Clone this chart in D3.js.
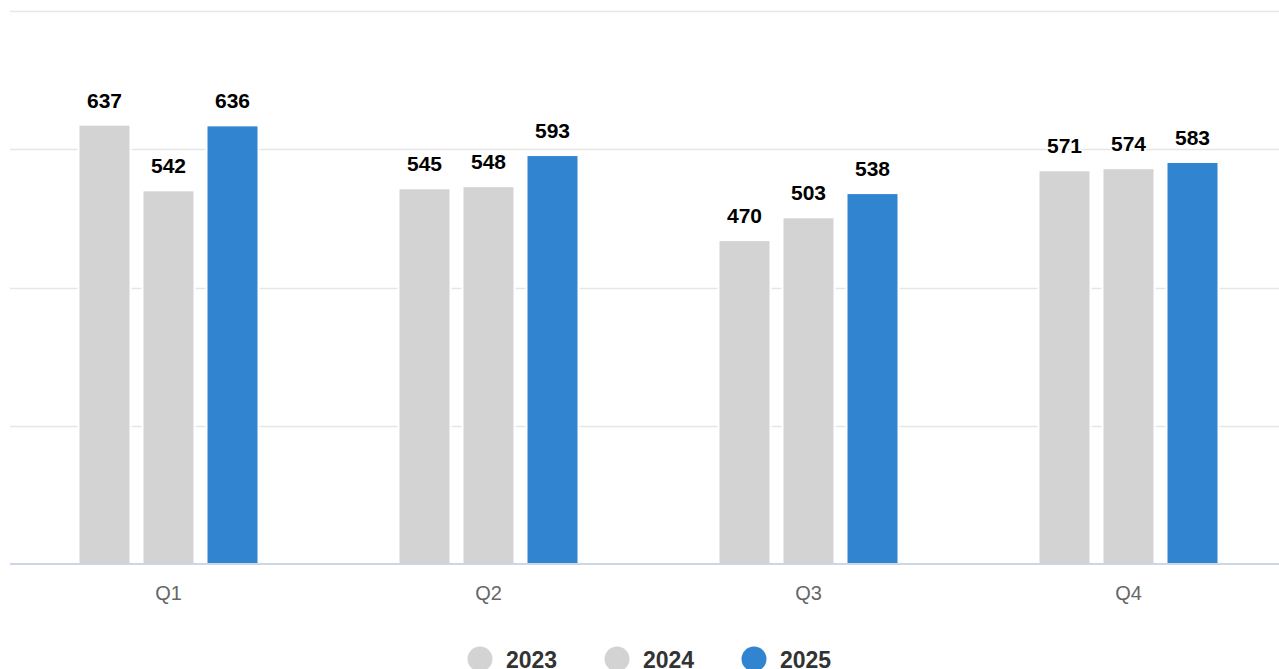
<!DOCTYPE html>
<html lang="en">
<head>
    <meta charset="UTF-8">
    <title>Quarterly comparison</title>
    <script src="https://cdn.jsdelivr.net/npm/d3@7"></script>
    <style>
        body { margin: 0; background: #fff; }
        svg { display: block; font-family: "Liberation Sans", Arial, sans-serif; }
    </style>
</head>
<body>
    <svg width="1279" height="669"></svg>
    <script>
        const quarters = ['Q1', 'Q2', 'Q3', 'Q4']
        const seriesNames = ['2023', '2024', '2025']
        const values2023 = [637, 545, 470, 571]
        const values2024 = [542, 548, 503, 574]
        const values2025 = [636, 593, 538, 583]
        const yTicks = [0, 200, 400, 600, 800]
        const colors = ['#d3d3d3', '#d3d3d3', '#3184d0']

        const seriesValues = [values2023, values2024, values2025]
        const rows = quarters.map((q, i) => ({
            quarter: q,
            bars: seriesNames.map((s, j) => ({ series: s, value: seriesValues[j][i], color: colors[j] }))
        }))

        const svg = d3.select('svg')
        const plotLeft = 8.5, plotRight = 1288.5

        const x0 = d3.scaleBand().domain(quarters).range([plotLeft, plotRight])
        const x1 = d3.scaleBand().domain(seriesNames).range([64, 256])
        const y = d3.scaleLinear().domain([0, 800]).range([565, 12])

        // grid lines
        svg.append('g')
            .selectAll('line')
            .data(yTicks.slice(1))
            .join('line')
            .attr('x1', 10)
            .attr('x2', 1279)
            .attr('y1', d => Math.round(y(d)) - 0.5)
            .attr('y2', d => Math.round(y(d)) - 0.5)
            .attr('stroke', '#e6e6e6')
            .attr('stroke-width', 1.6)

        const groups = svg.append('g')
            .selectAll('g')
            .data(rows)
            .join('g')
            .attr('transform', d => 'translate(' + x0(d.quarter) + ',0)')

        groups.selectAll('rect')
            .data(d => d.bars)
            .join('rect')
            .attr('x', d => x1(d.series) + 6)
            .attr('width', x1.bandwidth() - 12)
            .attr('y', d => y(d.value))
            .attr('height', d => y(0) - y(d.value))
            .attr('fill', d => d.color)
            .attr('stroke', 'white')
            .attr('stroke-width', 2)

        groups.selectAll('text')
            .data(d => d.bars)
            .join('text')
            .attr('x', d => x1(d.series) + x1.bandwidth() / 2)
            .attr('y', d => y(d.value) - 17)
            .attr('text-anchor', 'middle')
            .attr('font-size', 21)
            .attr('font-weight', 'bold')
            .attr('fill', '#000')
            .attr('stroke', 'white')
            .attr('stroke-width', 3)
            .attr('paint-order', 'stroke')
            .attr('stroke-linejoin', 'round')
            .text(d => d.value)

        // x axis
        svg.append('line')
            .attr('x1', 10)
            .attr('x2', 1279)
            .attr('y1', Math.round(y(0)) - 1)
            .attr('y2', Math.round(y(0)) - 1)
            .attr('stroke', '#ccd6eb')
            .attr('stroke-width', 2)

        svg.append('g')
            .selectAll('text')
            .data(quarters)
            .join('text')
            .attr('x', d => x0(d) + x0.bandwidth() / 2)
            .attr('y', 600)
            .attr('text-anchor', 'middle')
            .attr('font-size', 20)
            .attr('fill', '#666')
            .text(d => d)

        // legend
        const legend = svg.append('g')
            .selectAll('g')
            .data(seriesNames)
            .join('g')
            .attr('transform', (d, i) => 'translate(' + (480 + i * 137) + ',659)')
        legend.append('circle')
            .attr('r', 12.5)
            .attr('fill', (d, i) => colors[i])
        legend.append('text')
            .attr('x', 26)
            .attr('y', 9)
            .attr('font-size', 23)
            .attr('font-weight', 'bold')
            .attr('fill', '#333')
            .text(d => d)
    </script>
</body>
</html>
